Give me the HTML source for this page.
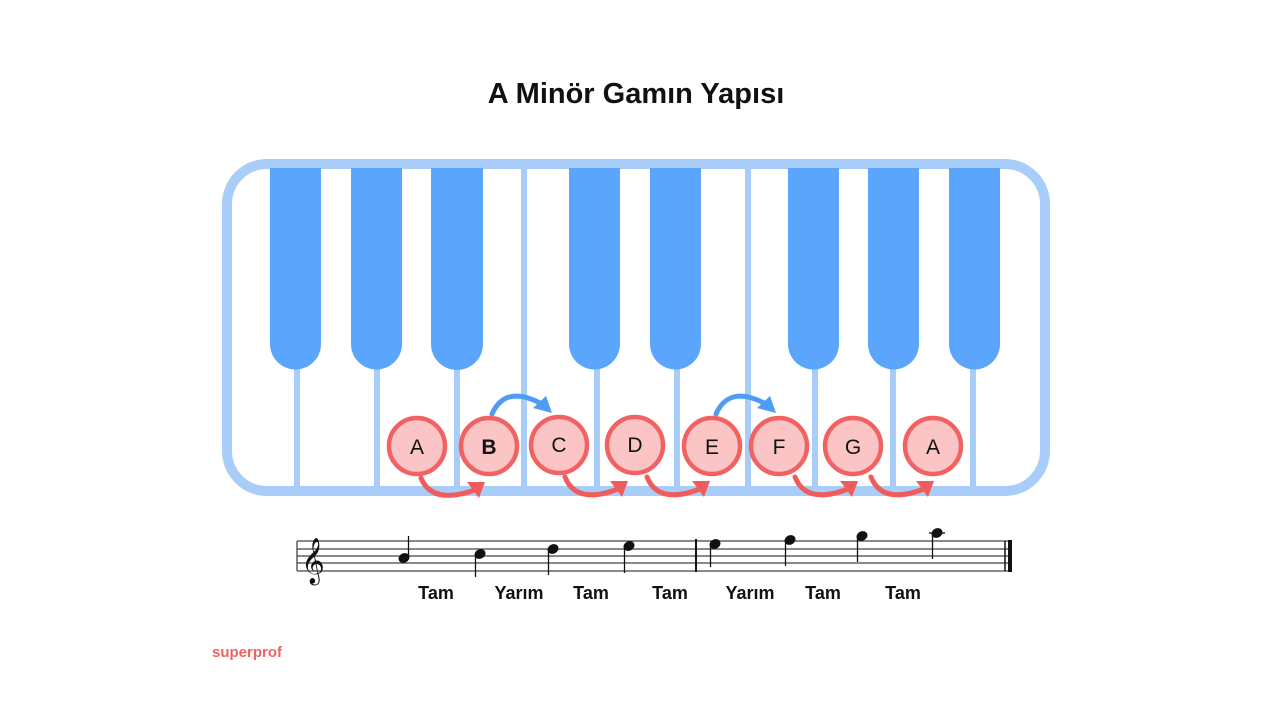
<!DOCTYPE html>
<html><head><meta charset="utf-8"><style>
html,body{margin:0;padding:0;background:#fff;}
svg{display:block}
</style></head><body>
<svg width="1280" height="720" viewBox="0 0 1280 720" xmlns="http://www.w3.org/2000/svg">
<rect width="1280" height="720" fill="#fff"/>
<text x="636" y="103" text-anchor="middle" font-family="Liberation Sans, sans-serif" font-weight="bold" font-size="29" fill="#111">A Minör Gamın Yapısı</text>
<!-- keyboard -->
<g stroke="#a9cdf9" stroke-width="6">
<line x1="297" y1="168" x2="297" y2="490"/><line x1="377" y1="168" x2="377" y2="490"/>
<line x1="457" y1="168" x2="457" y2="490"/><line x1="524" y1="168" x2="524" y2="490"/>
<line x1="597" y1="168" x2="597" y2="490"/><line x1="677" y1="168" x2="677" y2="490"/>
<line x1="748" y1="168" x2="748" y2="490"/><line x1="815" y1="168" x2="815" y2="490"/>
<line x1="893" y1="168" x2="893" y2="490"/><line x1="973" y1="168" x2="973" y2="490"/>
</g>
<rect x="227" y="164" width="818" height="327" rx="40" fill="none" stroke="#a9cdf9" stroke-width="10"/>
<g fill="#5ba5fd">
<path d="M270 168h51v176a25.5 25.5 0 0 1 -51 0z"/>
<path d="M351 168h51v176a25.5 25.5 0 0 1 -51 0z"/>
<path d="M431 168h52v176a26 26 0 0 1 -52 0z"/>
<path d="M569 168h51v176a25.5 25.5 0 0 1 -51 0z"/>
<path d="M650 168h51v176a25.5 25.5 0 0 1 -51 0z"/>
<path d="M788 168h51v176a25.5 25.5 0 0 1 -51 0z"/>
<path d="M868 168h51v176a25.5 25.5 0 0 1 -51 0z"/>
<path d="M949 168h51v176a25.5 25.5 0 0 1 -51 0z"/>
</g>
<!-- blue arrows -->
<g fill="none" stroke="#4d9cf5" stroke-width="5" stroke-linecap="round">
<path d="M492 414 Q505 385 540 403"/>
<path d="M716 414 Q729 385 764 403"/>
</g>
<g fill="#4d9cf5">
<path d="M552 413 L533 408 L546 396 Z"/>
<path d="M776 413 L757 408 L770 396 Z"/>
</g>
<!-- red arrows -->
<g fill="none" stroke="#f05c5c" stroke-width="5" stroke-linecap="round">
<path d="M421 478 Q432 505 475 490"/>
<path d="M565 477 Q576 505 618 489"/>
<path d="M647 477 Q658 505 700 489"/>
<path d="M795 477 Q806 505 848 489"/>
<path d="M871 477 Q882 505 924 489"/>
</g>
<g fill="#f05c5c">
<path d="M485 482 L467 482 L479 498 Z"/>
<path d="M628 481 L610 481 L622 497 Z"/>
<path d="M710 481 L692 481 L704 497 Z"/>
<path d="M858 481 L840 481 L852 497 Z"/>
<path d="M934 481 L916 481 L928 497 Z"/>
</g>
<!-- circles -->
<g fill="#fbc5c5" stroke="#f26262" stroke-width="4.5">
<circle cx="417" cy="446" r="28"/><circle cx="489" cy="446" r="28"/>
<circle cx="559" cy="445" r="28"/><circle cx="635" cy="445" r="28"/>
<circle cx="712" cy="446" r="28"/><circle cx="779" cy="446" r="28"/>
<circle cx="853" cy="446" r="28"/><circle cx="933" cy="446" r="28"/>
</g>
<g font-family="Liberation Sans, sans-serif" font-size="21" fill="#111" text-anchor="middle">
<text x="417" y="454">A</text><text x="489" y="454" font-weight="bold">B</text>
<text x="559" y="452">C</text><text x="635" y="452">D</text>
<text x="712" y="454">E</text><text x="779" y="454">F</text>
<text x="853" y="454">G</text><text x="933" y="454">A</text>
</g>
<!-- staff -->
<g stroke="#444" stroke-width="1.3">
<line x1="297" y1="541" x2="1012" y2="541"/><line x1="297" y1="549" x2="1012" y2="549"/>
<line x1="297" y1="556" x2="1012" y2="556"/><line x1="297" y1="563" x2="1012" y2="563"/>
<line x1="297" y1="571" x2="1012" y2="571"/>
<line x1="297" y1="541" x2="297" y2="571"/>
</g>
<line x1="696" y1="539" x2="696" y2="572" stroke="#111" stroke-width="2"/>
<line x1="1005" y1="541" x2="1005" y2="571" stroke="#111" stroke-width="1.5"/>
<line x1="1010" y1="540" x2="1010" y2="572" stroke="#111" stroke-width="4"/>
<text x="313" y="574" font-family="DejaVu Sans, sans-serif" font-size="40" fill="#111" text-anchor="middle">𝄞</text>
<g fill="#111" stroke="#111" stroke-width="1.3">
<ellipse cx="404" cy="558" rx="5" ry="4" transform="rotate(-25 404 558)"/><line x1="408.5" y1="557" x2="408.5" y2="536"/>
<ellipse cx="480" cy="554" rx="5" ry="4" transform="rotate(-25 480 554)"/><line x1="475.5" y1="555" x2="475.5" y2="577"/>
<ellipse cx="553" cy="549" rx="5" ry="4" transform="rotate(-25 553 549)"/><line x1="548.5" y1="550" x2="548.5" y2="575"/>
<ellipse cx="629" cy="546" rx="5" ry="4" transform="rotate(-25 629 546)"/><line x1="624.5" y1="547" x2="624.5" y2="573"/>
<ellipse cx="715" cy="544" rx="5" ry="4" transform="rotate(-25 715 544)"/><line x1="710.5" y1="545" x2="710.5" y2="567"/>
<ellipse cx="790" cy="540" rx="5" ry="4" transform="rotate(-25 790 540)"/><line x1="785.5" y1="541" x2="785.5" y2="566"/>
<ellipse cx="862" cy="536" rx="5" ry="4" transform="rotate(-25 862 536)"/><line x1="857.5" y1="537" x2="857.5" y2="562"/>
<ellipse cx="937" cy="533" rx="5" ry="4" transform="rotate(-25 937 533)"/><line x1="932.5" y1="534" x2="932.5" y2="559"/>
<line x1="929" y1="533" x2="945" y2="533"/>
</g>
<g font-family="Liberation Sans, sans-serif" font-weight="bold" font-size="18" fill="#111" text-anchor="middle">
<text x="436" y="599">Tam</text><text x="519" y="599">Yarım</text>
<text x="591" y="599">Tam</text><text x="670" y="599">Tam</text>
<text x="750" y="599">Yarım</text><text x="823" y="599">Tam</text>
<text x="903" y="599">Tam</text>
</g>
<text x="212" y="657" font-family="Liberation Sans, sans-serif" font-weight="bold" font-size="15" fill="#f26262">superprof</text>
</svg>
</body></html>
